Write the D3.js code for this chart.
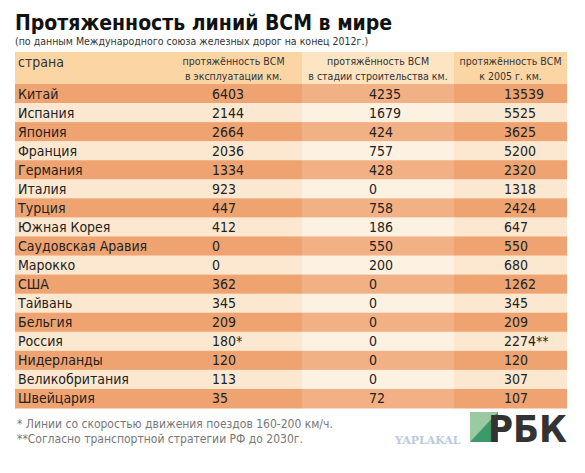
<!DOCTYPE html>
<html><head><meta charset="utf-8">
<script src="https://cdn.jsdelivr.net/npm/d3@7"></script>
<style>body{margin:0;background:#fff}</style>
</head><body>
<div id="chart"></div>
<script>
// table data
var countries = ["Китай","Испания","Япония","Франция","Германия","Италия","Турция","Южная Корея","Саудовская Аравия","Марокко","США","Тайвань","Бельгия","Россия","Нидерланды","Великобритания","Швейцария"];
var inUse = ["6403","2144","2664","2036","1334","923","447","412","0","0","362","345","209","180*","120","113","35"];
var building = ["4235","1679","424","757","428","0","758","186","550","200","0","0","0","0","0","0","72"];
var by2025 = ["13539","5525","3625","5200","2320","1318","2424","647","550","680","1262","345","209","2274**","120","307","107"];
var headers = [["страна"],["протяжённость ВСМ","в эксплуатации км."],["протяжённость ВСМ","в стадии строительства км."],["протяжённость ВСМ","к 2005 г. км."]];

var width = 585, height = 473;
var svg = d3.select("#chart").append("svg").attr("width", width).attr("height", height);

var colEdges = [15, 165, 302, 454, 567];
var y = d3.scaleBand().domain(d3.range(countries.length)).range([84, 408]);
var font = "'Liberation Sans Narrow','DejaVu Sans Condensed',sans-serif";

svg.append("text").attr("x", 15).attr("y", 30)
    .attr("font-family", "'DejaVu Sans Condensed',sans-serif").attr("font-weight", "bold")
    .attr("font-size", 21).attr("fill", "#111").text("Протяженность линий ВСМ в мире");
svg.append("text").attr("x", 15).attr("y", 45)
    .attr("font-family", font).attr("font-size", 10.5).attr("fill", "#333")
    .text("(по данным Международного союза железных дорог на конец 2012г.)");

// header row
var hdr = svg.append("g");
hdr.selectAll("rect").data(headers).enter().append("rect")
    .attr("x", (d,i)=>colEdges[i]).attr("y", 52)
    .attr("width", (d,i)=>colEdges[i+1]-colEdges[i]).attr("height", 32)
    .attr("fill", (d,i)=> i==2 ? "#fde4c2" : "#fcd5a4");
headers.forEach(function(lines, i){
    var cx = i==0 ? 18 : (colEdges[i]+colEdges[i+1])/2;
    lines.forEach(function(t, j){
        svg.append("text").attr("x", cx).attr("y", i==0 ? 67 : 65 + j*15)
            .attr("text-anchor", i==0 ? "start" : "middle")
            .attr("font-family", font).attr("font-size", i==0 ? 14 : 10.5).attr("fill", "#333").text(t);
    });
});

// body rows
var rows = svg.selectAll(".row").data(countries).enter().append("g").attr("class", "row");
[0,1,2,3].forEach(function(c){
    rows.append("rect")
        .attr("x", colEdges[c]).attr("y", (d,i)=>y(i))
        .attr("width", colEdges[c+1]-colEdges[c]).attr("height", y.bandwidth()+0.5)
        .attr("fill", (d,i)=> i%2==0 ? (c==2 ? "#f2b184" : "#eea371") : (c==2 ? "#fdf1e2" : "#fce8d0"));
});
var cols = [countries, inUse, building, by2025];
var textX = [18, colEdges[1]+47, colEdges[2]+67, colEdges[3]+50];
cols.forEach(function(arr, c){
    rows.append("text")
        .attr("x", textX[c])
        .attr("y", (d,i)=>y(i)+y.bandwidth()/2+5)
        .attr("font-family", font).attr("font-size", 14).attr("fill", "#222")
        .text((d,i)=>arr[i]);
});

// footnotes
svg.append("text").attr("x", 17).attr("y", 428).attr("font-family", font).attr("font-size", 12)
    .attr("fill", "#777").text("*  Линии со скоростью движения поездов 160-200 км/ч.");
svg.append("text").attr("x", 17).attr("y", 443).attr("font-family", font).attr("font-size", 12)
    .attr("fill", "#777").text("**Согласно транспортной стратегии РФ до 2030г.");

// logo
svg.append("path").attr("d", "M470,412 L498,412 L498,442 L470,442 Z").attr("fill", "#9bc9a2");
svg.append("path").attr("d", "M470,442 L498,412 L498,442 Z").attr("fill", "#3a9a6a");
svg.append("text").attr("x", 567).attr("y", 442).attr("text-anchor", "end")
    .attr("font-family", "'DejaVu Sans Condensed',sans-serif").attr("font-weight", "bold")
    .attr("font-size", 38).attr("fill", "#333").text("РБК");
svg.append("text").attr("x", 395).attr("y", 444).attr("font-family", "'DejaVu Serif',serif")
    .attr("font-weight", "bold").attr("font-size", 11).attr("fill", "#a8bfd8").attr("opacity", 0.8)
    .text("YAPLAKAL");
</script>
</body></html>
